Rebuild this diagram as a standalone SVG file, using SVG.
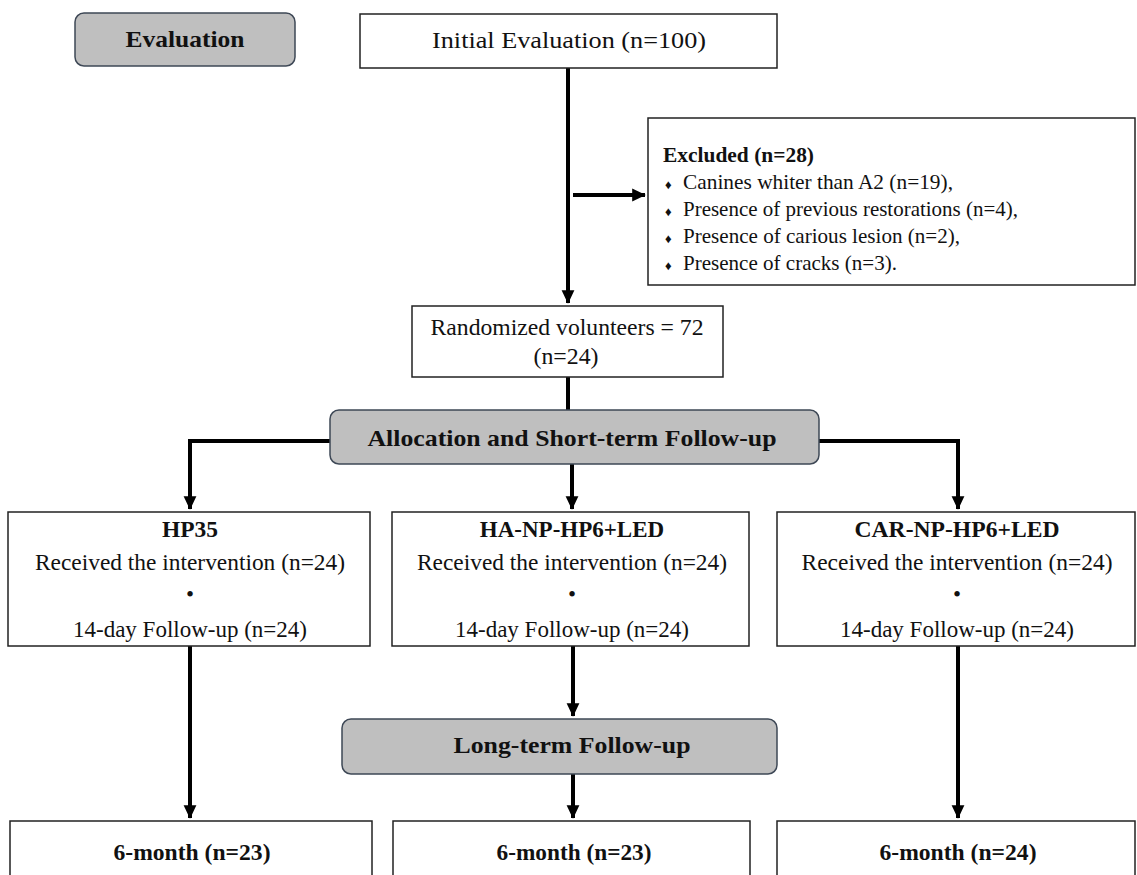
<svg xmlns="http://www.w3.org/2000/svg" width="1137" height="875" viewBox="0 0 1137 875">
<defs>
<marker id="ah" markerWidth="4" markerHeight="4" refX="3.2" refY="2" orient="auto" markerUnits="strokeWidth">
<path d="M0,0.4 L3.4,2 L0,3.6 Z" fill="#000"/>
</marker>
<style>
.box{fill:#fff;stroke:#222;stroke-width:1.5}
.phase{fill:#bfbfbf;stroke:#3e4856;stroke-width:1.5}
.t{font-family:"Liberation Serif","Times New Roman",serif;font-size:23px;fill:#111}
.x{font-family:"Liberation Serif","Times New Roman",serif;font-size:21px;fill:#111}
.b{font-family:"Liberation Serif","Times New Roman",serif;font-size:23px;font-weight:bold;fill:#111}
.ph{font-family:"Liberation Serif","Times New Roman",serif;font-size:24px;font-weight:bold;fill:#111}
.c{text-anchor:middle}
.ln{fill:none;stroke:#000;stroke-width:4}
</style>
</defs>

<g id="connectors">
<line class="ln" x1="568" y1="68" x2="568" y2="303" marker-end="url(#ah)"/>
<line class="ln" x1="573" y1="195" x2="645" y2="195" marker-end="url(#ah)"/>
<line class="ln" x1="568" y1="377" x2="568" y2="410"/>
<polyline class="ln" points="330,441 190,441 190,509" marker-end="url(#ah)"/>
<polyline class="ln" points="818,441 958,441 958,509" marker-end="url(#ah)"/>
<line class="ln" x1="572" y1="464" x2="572" y2="509" marker-end="url(#ah)"/>
<line class="ln" x1="190" y1="646" x2="190" y2="818" marker-end="url(#ah)"/>
<line class="ln" x1="573" y1="646" x2="573" y2="716" marker-end="url(#ah)"/>
<line class="ln" x1="573" y1="774" x2="573" y2="818" marker-end="url(#ah)"/>
<line class="ln" x1="958" y1="646" x2="958" y2="818" marker-end="url(#ah)"/>
</g>

<g id="evaluation">
<rect class="phase" x="75" y="13" width="220" height="53" rx="9"/>
<text class="ph c" x="185" y="47" textLength="119" lengthAdjust="spacingAndGlyphs">Evaluation</text>
</g>

<g id="initial">
<rect class="box" x="360" y="14" width="417" height="54"/>
<text class="t c" x="569" y="48" textLength="274" lengthAdjust="spacingAndGlyphs">Initial Evaluation (n=100)</text>
</g>

<g id="excluded">
<rect class="box" x="648" y="118" width="487" height="167"/>
<text class="x" x="663" y="162" font-weight="bold" textLength="151" lengthAdjust="spacingAndGlyphs">Excluded (n=28)</text>
<text class="x" x="665" y="189"><tspan font-size="13">♦</tspan></text>
<text class="x" x="683" y="189" textLength="270" lengthAdjust="spacingAndGlyphs">Canines whiter than A2 (n=19),</text>
<text class="x" x="665" y="216"><tspan font-size="13">♦</tspan></text>
<text class="x" x="683" y="216" textLength="335" lengthAdjust="spacingAndGlyphs">Presence of previous restorations (n=4),</text>
<text class="x" x="665" y="243"><tspan font-size="13">♦</tspan></text>
<text class="x" x="683" y="243" textLength="277" lengthAdjust="spacingAndGlyphs">Presence of carious lesion (n=2),</text>
<text class="x" x="665" y="270"><tspan font-size="13">♦</tspan></text>
<text class="x" x="683" y="270" textLength="214" lengthAdjust="spacingAndGlyphs">Presence of cracks (n=3).</text>
</g>

<g id="randomized">
<rect class="box" x="412" y="306" width="311" height="71"/>
<text class="t c" x="567" y="335" textLength="273" lengthAdjust="spacingAndGlyphs">Randomized volunteers = 72</text>
<text class="t c" x="566" y="364" textLength="65" lengthAdjust="spacingAndGlyphs">(n=24)</text>
</g>

<g id="allocation">
<rect class="phase" x="330" y="410" width="489" height="54" rx="9"/>
<text class="ph c" x="572" y="446" textLength="409" lengthAdjust="spacingAndGlyphs">Allocation and Short-term Follow-up</text>
</g>

<g id="hp35">
<rect class="box" x="8" y="512" width="362" height="134"/>
<text class="b c" x="190" y="537" textLength="56" lengthAdjust="spacingAndGlyphs">HP35</text>
<text class="t c" x="190" y="570" textLength="310" lengthAdjust="spacingAndGlyphs">Received the intervention (n=24)</text>
<text class="t c" x="190" y="602">•</text>
<text class="t c" x="190" y="637" textLength="234" lengthAdjust="spacingAndGlyphs">14-day Follow-up (n=24)</text>
</g>

<g id="ha">
<rect class="box" x="392" y="512" width="357" height="134"/>
<text class="b c" x="572" y="537">HA-NP-HP6+LED</text>
<text class="t c" x="572" y="570" textLength="310" lengthAdjust="spacingAndGlyphs">Received the intervention (n=24)</text>
<text class="t c" x="572" y="602">•</text>
<text class="t c" x="572" y="637" textLength="234" lengthAdjust="spacingAndGlyphs">14-day Follow-up (n=24)</text>
</g>

<g id="car">
<rect class="box" x="777" y="512" width="358" height="134"/>
<text class="b c" x="957" y="537" textLength="205" lengthAdjust="spacingAndGlyphs">CAR-NP-HP6+LED</text>
<text class="t c" x="957" y="570" textLength="311" lengthAdjust="spacingAndGlyphs">Received the intervention (n=24)</text>
<text class="t c" x="957" y="602">•</text>
<text class="t c" x="957" y="637" textLength="234" lengthAdjust="spacingAndGlyphs">14-day Follow-up (n=24)</text>
</g>

<g id="longterm">
<rect class="phase" x="342" y="719" width="435" height="55" rx="9"/>
<text class="ph c" x="572" y="753" textLength="237" lengthAdjust="spacingAndGlyphs">Long-term Follow-up</text>
</g>

<g id="m6a">
<rect class="box" x="10" y="821" width="362" height="70"/>
<text class="b c" x="192" y="860" textLength="157" lengthAdjust="spacingAndGlyphs">6-month (n=23)</text>
</g>
<g id="m6b">
<rect class="box" x="393" y="821" width="357" height="70"/>
<text class="b c" x="574" y="860" textLength="155" lengthAdjust="spacingAndGlyphs">6-month (n=23)</text>
</g>
<g id="m6c">
<rect class="box" x="777" y="821" width="358" height="70"/>
<text class="b c" x="958" y="860" textLength="157" lengthAdjust="spacingAndGlyphs">6-month (n=24)</text>
</g>
</svg>
